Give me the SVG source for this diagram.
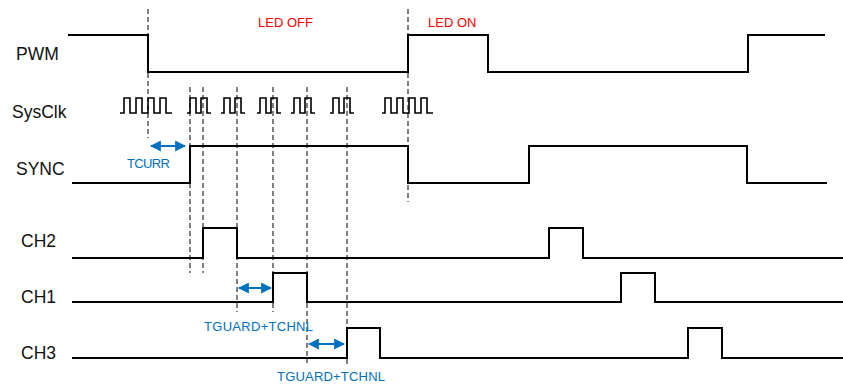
<svg xmlns="http://www.w3.org/2000/svg" width="843" height="385" viewBox="0 0 843 385">
<style>
.lbl{font-family:"Liberation Sans",Arial,sans-serif;font-size:17.5px;fill:#111}
.red{font-family:"Liberation Sans",Arial,sans-serif;font-size:13px;fill:#ff0000}
.blue{font-family:"Liberation Sans",Arial,sans-serif;font-size:13px;fill:#0070c0}
.wave{fill:none;stroke:#000;stroke-width:2;stroke-linejoin:miter}
.clk{fill:none;stroke:#000;stroke-width:1.6}
.dash{stroke:#000;stroke-width:1;stroke-dasharray:5,3;fill:none}
.arr{stroke:#0070c0;stroke-width:2;fill:none;marker-start:url(#ah);marker-end:url(#ah)}
</style>
<defs>
<marker id="ah" viewBox="0 0 10 10" refX="9" refY="5" markerWidth="5.5" markerHeight="5.5" orient="auto-start-reverse" markerUnits="strokeWidth">
<path d="M0,0 L10,5 L0,10 z" fill="#0070c0"/>
</marker>
</defs>
<rect width="843" height="385" fill="#fff"/>
<g id="pwm">
<text class="lbl" x="16" y="60">PWM</text>
<path class="wave" d="M68,35 H148 V72 H408 V35 H488 V72 H748 V35 H825"/>
<text class="red" x="258" y="27">LED OFF</text>
<text class="red" x="428" y="27">LED ON</text>
</g>
<g id="sysclk">
<text class="lbl" x="12" y="118">SysClk</text>
<path class="clk" d="M120,113 H124 V98 H130 V113 H136 V98 H142 V113 H148 V98 H154 V113 H160 V98 H166 V113 H172"/>
<path class="clk" d="M187,113 H190 V98 H196 V113 H201 V98 H207 V113 H211"/>
<path class="clk" d="M221,113 H224 V98 H230 V113 H235 V98 H241 V113 H245"/>
<path class="clk" d="M257,113 H260 V98 H266 V113 H271 V98 H277 V113 H281"/>
<path class="clk" d="M291,113 H294 V98 H300 V113 H305 V98 H311 V113 H315"/>
<path class="clk" d="M330,113 H333 V98 H339 V113 H344 V98 H350 V113 H354"/>
<path class="clk" d="M382,113 H385 V98 H391 V113 H397 V98 H403 V113 H409 V98 H415 V113 H421 V98 H427 V113 H433"/>
</g>
<g id="sync">
<text class="lbl" x="16" y="175">SYNC</text>
<path class="wave" d="M72,183 H190 V146 H408 V183 H529 V146 H747 V183 H827"/>
</g>
<g id="ch2">
<text class="lbl" x="21" y="247">CH2</text>
<path class="wave" d="M72,258 H203 V228 H237 V258 H549 V228 H583 V258 H843"/>
</g>
<g id="ch1">
<text class="lbl" x="21" y="303">CH1</text>
<path class="wave" d="M72,302 H273 V273 H307 V302 H621 V273 H655 V302 H843"/>
</g>
<g id="ch3">
<text class="lbl" x="21" y="359">CH3</text>
<path class="wave" d="M72,358 H347 V328 H380 V358 H688 V328 H722 V358 H843"/>
</g>
<g id="connectors">
<line class="dash" x1="148" y1="9" x2="148" y2="138"/>
<line class="dash" x1="408" y1="9" x2="408" y2="202"/>
<line class="dash" x1="190" y1="87" x2="190" y2="273"/>
<line class="dash" x1="203" y1="87" x2="203" y2="273"/>
<line class="dash" x1="237" y1="87" x2="237" y2="312"/>
<line class="dash" x1="273" y1="87" x2="273" y2="312"/>
<line class="dash" x1="307" y1="87" x2="307" y2="363"/>
<line class="dash" x1="347" y1="87" x2="347" y2="366"/>
<line class="arr" x1="151" y1="146" x2="185" y2="146"/>
<line class="arr" x1="239" y1="288" x2="271" y2="288"/>
<line class="arr" x1="309" y1="344" x2="344" y2="344"/>
<text class="blue" x="127" y="168" textLength="43">TCURR</text>
<text class="blue" x="204" y="331" textLength="109">TGUARD+TCHNL</text>
<text class="blue" x="277" y="381" textLength="108">TGUARD+TCHNL</text>
</g>
</svg>
